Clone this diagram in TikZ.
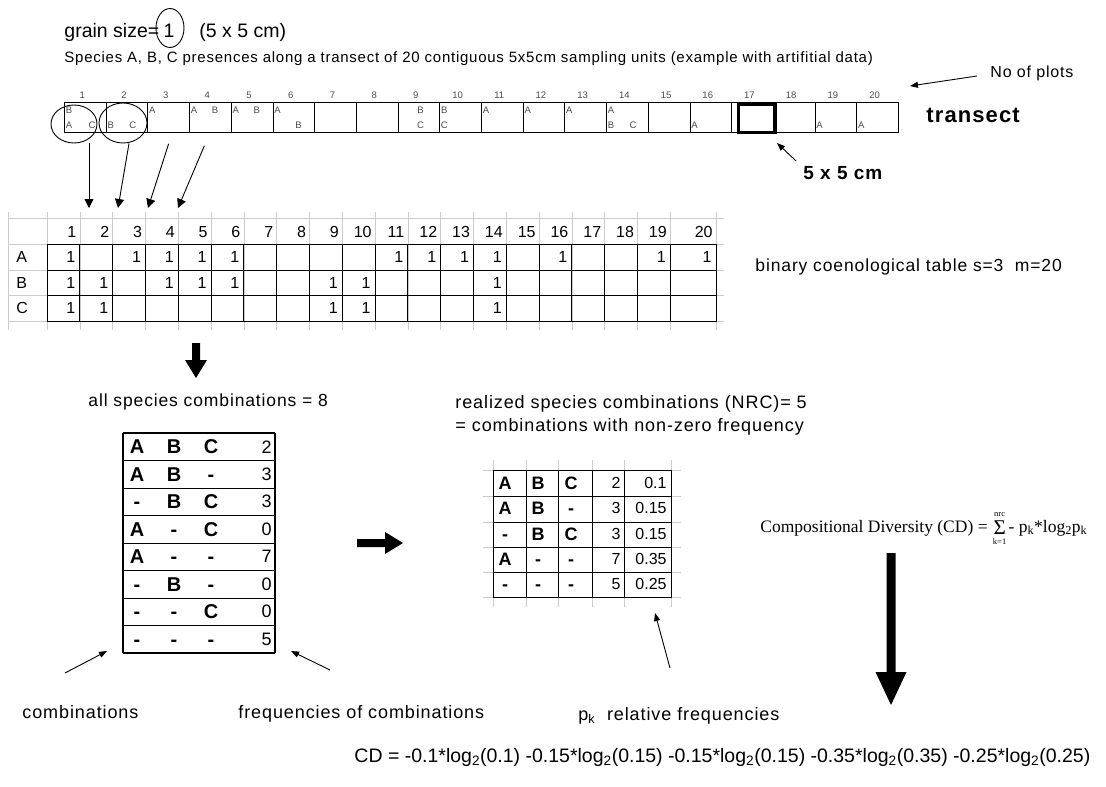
\documentclass[tikz,border=0pt]{standalone}
\usepackage{fontspec}
\setmainfont{Liberation Sans}[LetterSpace=5]
\newfontfamily\plainfont{Liberation Sans}
\newfontfamily\seriffont{Liberation Serif}
\usetikzlibrary{arrows.meta}
\usetikzlibrary{shapes}

\newcommand{\sz}[1]{\fontsize{#1}{#1}\selectfont}

\tikzset{
  arr/.style={-{Triangle[length=9pt,width=9pt]}, line width=0.9pt},
  lbl/.style={inner sep=0pt, anchor=west, font=\sz{17}},
  num/.style={inner sep=0pt, font=\plainfont\sz{16}},
  smalltxt/.style={inner sep=0pt, font=\plainfont\sz{9.5}, text=black!70},
  combtxt/.style={inner sep=0pt, text height=14pt, text depth=0pt, font=\plainfont\bfseries\sz{20}},
  cellnode/.style={draw, line width=0.8pt, minimum width=41.7pt, minimum height=30pt, inner sep=0pt, anchor=north west},
  gridline/.style={black!20, line width=0.6pt},
}

\begin{document}
\begin{tikzpicture}[x=1pt, y=-1pt, line width=0.9pt]
\useasboundingbox (0,0) rectangle (1106,787);
\fill[white] (0,0) rectangle (1106,787);

%%%%%%%%
% transect
%%%%%%%%

% grain size and title
\node[lbl, anchor=base west, font=\plainfont\sz{19.5}] (grain) at (64,37) {grain size=};
\node[draw, ellipse, minimum width=28pt, minimum height=39pt, inner sep=0pt] (grainone) at (170,28) {};
\node[inner sep=0pt, anchor=base, font=\plainfont\sz{19.5}] (one) at (169,37) {1};
\node[lbl, anchor=base west, font=\plainfont\sz{19.5}] (grainunit) at (199,37) {(5 x 5 cm)};
\node[lbl, anchor=base west, font=\sz{15}] (species) at (64,62) {Species A, B, C presences along a transect of 20 contiguous 5x5cm sampling units (example with artifitial data)};

% draw transect cells
\foreach \i in {1,...,20} {
  \node[cellnode] (t\i) at ({64+(\i-1)*41.7},102) {};
  \node[smalltxt] at ([xshift=-3pt, yshift=7pt]t\i.north) {\i};
}

% species in the cells
\foreach \cc/\dx/\y/\ltr in {1/5/110/B, 1/5/125/A, 1/28/125/C, 2/5/125/B, 2/27/125/C,
    3/5/110/A, 4/5/110/A, 4/26/110/B, 5/5/110/A, 5/26/110/B, 6/5/110/A, 6/26/125/B,
    9/23/110/B, 9/23/125/C, 10/5/110/B, 10/5/125/C, 11/5/110/A, 12/5/110/A, 13/5/110/A,
    14/5/110/A, 14/5/125/B, 14/27/125/C, 16/5/125/A, 19/5/125/A, 20/5/125/A}
  \node[smalltxt] at ({64+(\cc-1)*41.7+\dx},\y) {\ltr};

% draw sampling unit
\node[draw, line width=3pt, minimum width=37pt, minimum height=28pt, inner sep=0pt] (unit) at (757,118.5) {};

% labels right
\node[lbl, font=\sz{16}] (plots) at (990,73) {No of plots};
\coordinate (plotrow) at (910,86);
\draw[arr, -{Triangle[length=8pt,width=6pt]}] ([xshift=-13pt, yshift=-3pt]plots.west) -- (plotrow);
\node[lbl, font=\bfseries\sz{22}] (transect) at (926,115) {transect};
\node[lbl, font=\bfseries\sz{19}] (fivecm) at (803,173) {5 x 5 cm};
\draw[arr, -{Triangle[length=8pt,width=6pt]}] ([shift={(-7pt,5pt)}]fivecm.north west) -- ([yshift=-9pt]unit.south east);

% draw circles and arrows
\node[draw, ellipse, minimum width=46pt, minimum height=38pt, inner sep=0pt] (circA) at (74,124) {};
\node[draw, ellipse, minimum width=48pt, minimum height=40pt, inner sep=0pt] (circB) at (123,123) {};
\coordinate (col1) at (89,208);
\coordinate (col2) at (118,208);
\coordinate (col3) at (148,208);
\coordinate (col4) at (178,208);
\draw[arr] ([xshift=15pt]circA.south) -- (col1);
\draw[arr] ([xshift=6pt]circB.south) -- (col2);
\draw[arr] ([yshift=-11pt]t3.south) -- (col3);
\draw[arr] ([shift={(-6pt,-13pt)}]t4.south) -- (col4);

%%%%%%%%
% coenological table
%%%%%%%%

% draw spreadsheet grid
\foreach \y in {218,244,270,295,321} \draw[gridline] (8,\y) -- (724,\y);
\draw[gridline] (8,212) -- (8,330);
\foreach \i in {0,...,19} \draw[gridline] ({47+\i*32.8},212) -- ({47+\i*32.8},330);
\draw[gridline] (716,212) -- (716,330);

% draw table lines
\draw (47,244) rectangle (716,321);
\draw (47,270) -- (716,270);
\draw (47,295) -- (716,295);
\foreach \i in {1,...,19} \draw ({47+\i*32.8},244) -- ({47+\i*32.8},321);

% header and values
\foreach \i in {1,...,19} \node[num, anchor=east] at ({47+\i*32.8-3},232) {\i};
\node[num, anchor=east] at (713,232) {20};
\foreach \r/\y in {A/257, B/282.5, C/308} \node[num, anchor=west] at (16,\y) {\r};
\foreach \cc in {1,3,4,5,6,11,12,13,14,16,19} \node[num, anchor=east] at ({47+\cc*32.8-4},257) {1};
\node[num, anchor=east] at (712,257) {1};
\foreach \cc in {1,2,4,5,6,9,10,14} \node[num, anchor=east] at ({47+\cc*32.8-4},282.5) {1};
\foreach \cc in {1,2,9,10,14} \node[num, anchor=east] at ({47+\cc*32.8-4},308) {1};

\node[lbl, font=\sz{17.5}] (binary) at (755,267) {binary coenological table s=3\ \ m=20};

% block arrow down
\fill (192,343) -- (200,343) -- (200,360) -- (207,360) -- (196,378) -- (185,360) -- (192,360) -- cycle;

%%%%%%%%
% all combinations
%%%%%%%%

\node[lbl, font=\sz{17.5}] (allcomb) at (88,402) {all species combinations = 8};

% draw combination table
\foreach \k in {1,...,7} \draw (123,{433+\k*27.5}) -- (275,{433+\k*27.5});
\draw[line width=1.6pt] (123,433) -- (275,433);
\draw[line width=1.6pt] (123,653) -- (275,653);
\draw[line width=1.2pt] (123,433) -- (123,653);
\draw[line width=1.2pt] (275,433) -- (275,653);
\foreach \k/\sa/\sb/\sc/\fr in {1/A/B/C/2, 2/A/B/-/3, 3/-/B/C/3, 4/A/-/C/0, 5/A/-/-/7, 6/-/B/-/0, 7/-/-/C/0, 8/-/-/-/5} {
  \node[combtxt] at (137,{433+(\k-0.5)*27.5}) {\sa};
  \node[combtxt] at (174,{433+(\k-0.5)*27.5}) {\sb};
  \node[combtxt] at (211,{433+(\k-0.5)*27.5}) {\sc};
  \node[num, font=\plainfont\sz{18}, anchor=east] at (272,{433+(\k-0.5)*27.5}) {\fr};
}

% block arrow right
\fill (357,539) -- (385,539) -- (385,532) -- (403,543) -- (385,554) -- (385,547) -- (357,547) -- cycle;

%%%%%%%%
% realized combinations
%%%%%%%%

\node[lbl, font=\sz{18}] (realized) at (455,404) {realized species combinations (NRC)= 5};
\node[lbl, font=\sz{18}] (nonzero) at (455,427) {= combinations with non-zero frequency};

% draw spreadsheet grid
\foreach \x in {493,526,558,592,624,671} \draw[gridline] (\x,460) -- (\x,607);
\foreach \y in {470,496,522,547,572,597} \draw[gridline] (483,\y) -- (681,\y);

% draw table lines
\draw (493,470) rectangle (671,597);
\foreach \y in {496,522,547,572} \draw (493,\y) -- (671,\y);
\foreach \x in {526,558,592,624} \draw (\x,470) -- (\x,597);
\foreach \k/\sa/\sb/\sc/\fr/\pk in {1/A/B/C/2/0.1, 2/A/B/-/3/0.15, 3/-/B/C/3/0.15, 4/A/-/-/7/0.35, 5/-/-/-/5/0.25} {
  \node[combtxt, text height=13pt, font=\plainfont\bfseries\sz{18}] at (505,{470+(\k-0.5)*25.4}) {\sa};
  \node[combtxt, text height=13pt, font=\plainfont\bfseries\sz{18}] at (538,{470+(\k-0.5)*25.4}) {\sb};
  \node[combtxt, text height=13pt, font=\plainfont\bfseries\sz{18}] at (571,{470+(\k-0.5)*25.4}) {\sc};
  \node[num, anchor=east] at (621,{470+(\k-0.5)*25.4}) {\fr};
  \node[num, anchor=east] at (667,{470+(\k-0.5)*25.4}) {\pk};
}

%%%%%%%%
% compositional diversity
%%%%%%%%

\node[lbl, font=\seriffont\sz{17.5}] (cdtext) at (760,528) {Compositional Diversity (CD) =};
\node[inner sep=0pt, anchor=west, font=\seriffont\sz{21}] (sigma) at ([xshift=5pt]cdtext.east) {Σ};
\node[inner sep=0pt, font=\seriffont\sz{8.5}] (nrc) at ([yshift=6pt]sigma.north) {nrc};
\node[inner sep=0pt, font=\seriffont\sz{8.5}] (kone) at ([yshift=-6pt]sigma.south) {k=1};
\node[lbl, font=\seriffont\sz{17.5}] (pklog) at ([xshift=2pt]sigma.east) {- p\textsubscript{k}*log\textsubscript{2}p\textsubscript{k}};

% big arrow down
\fill (886.5,553) -- (895.5,553) -- (895.5,672) -- (906.5,672) -- (891,705) -- (875.5,672) -- (886.5,672) -- cycle;

% bottom labels
\node[lbl, anchor=base west, font=\sz{18}] (comblabel) at (22,718) {combinations};
\node[lbl, anchor=base west, font=\sz{18}] (freqlabel) at (238,718) {frequencies of combinations};
\node[lbl, anchor=base west, font=\sz{18}] (pklabel) at (578,720) {p\textsubscript{k}~ relative frequencies};
\coordinate (combtail) at (65,673);
\coordinate (combtip) at (107,651);
\coordinate (freqtail) at (330,670);
\coordinate (freqtip) at (291,651);
\coordinate (pktail) at (670,668);
\coordinate (pktip) at (655,613);
\draw[arr, -{Triangle[length=8pt,width=6pt]}] (combtail) -- (combtip);
\draw[arr, -{Triangle[length=8pt,width=6pt]}] (freqtail) -- (freqtip);
\draw[arr, -{Triangle[length=8pt,width=6pt]}] (pktail) -- (pktip);

% CD value
\node[lbl, font=\plainfont\sz{19.5}] (cdvalue) at (354,757) {CD = -0.1*log\textsubscript{2}(0.1) -0.15*log\textsubscript{2}(0.15) -0.15*log\textsubscript{2}(0.15) -0.35*log\textsubscript{2}(0.35) -0.25*log\textsubscript{2}(0.25)};
\end{tikzpicture}
\end{document}
